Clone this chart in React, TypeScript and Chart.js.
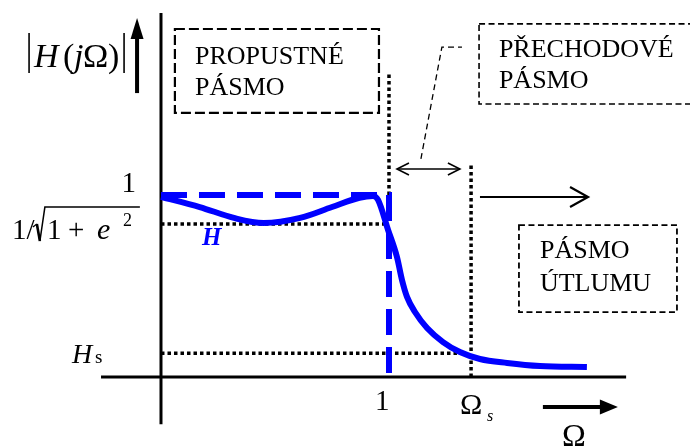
import React, { useEffect, useRef } from "react";
import { Chart, registerables } from "chart.js";
Chart.register(...registerables);

// ---- data (normalised frequency Ω, magnitude |H(jΩ)|) ----
const responseOmega = [0, 0.17, 0.32, 0.45, 0.61, 0.75, 0.87, 0.93, 0.952, 0.996, 1.035, 1.057, 1.079, 1.114, 1.167, 1.237, 1.311, 1.399, 1.518, 1.662, 1.868];
const responseMag = [0.99, 0.934, 0.874, 0.846, 0.874, 0.934, 0.985, 0.995, 0.973, 0.808, 0.659, 0.533, 0.44, 0.357, 0.269, 0.192, 0.137, 0.099, 0.077, 0.06, 0.055];
const idealOmega = [0, 1, 1];
const idealMag = [1, 1, 0];
const passbandEdge = 1;
const stopbandEdge = 1.36;
const passbandMin = 0.84;
const stopbandMax = 0.13;
const passbandTop = 1;
const axisXRange = [-0.263, 2.04];
const axisYRange = [-0.26, 2.0];
const viewX = [-0.7061, 2.3202];
const viewY = [-0.3901, 2.0714];

const pts = (xs: number[], ys: number[]) => xs.map((x, i) => ({ x, y: ys[i] }));

const SERIF = '"Liberation Serif", "Times New Roman", serif';

const annotationPlugin = {
  id: "filterAnnotations",
  afterDatasetsDraw(chart: any) {
    const ctx: CanvasRenderingContext2D = chart.ctx;
    const X = (v: number) => chart.scales.x.getPixelForValue(v);
    const Y = (v: number) => chart.scales.y.getPixelForValue(v);
    ctx.save();

    const text = (s: string, x: number, y: number, font: string, color = "#000", align: CanvasTextAlign = "left") => {
      ctx.font = font;
      ctx.fillStyle = color;
      ctx.textAlign = align;
      ctx.textBaseline = "alphabetic";
      ctx.fillText(s, x, y);
    };
    const line = (x1: number, y1: number, x2: number, y2: number, w: number, dash: number[] = []) => {
      ctx.beginPath();
      ctx.setLineDash(dash);
      ctx.lineWidth = w;
      ctx.strokeStyle = "#000";
      ctx.moveTo(x1, y1);
      ctx.lineTo(x2, y2);
      ctx.stroke();
      ctx.setLineDash([]);
    };
    const box = (x0: number, y0: number, x1: number, y1: number, w: number, dash: number[]) => {
      ctx.beginPath();
      ctx.setLineDash(dash);
      ctx.lineWidth = w;
      ctx.strokeStyle = "#000";
      ctx.rect(X(x0), Y(y0), X(x1) - X(x0), Y(y1) - Y(y0));
      ctx.stroke();
      ctx.setLineDash([]);
    };

    // dashed boxes with text
    box(0.061, 1.912, 0.956, 1.451, 2.2, [10, 4]);
    box(1.395, 1.94, 2.33, 1.5, 1.6, [6, 3.5]);
    box(1.57, 0.835, 2.263, 0.357, 1.8, [6, 3.5]);
    const f26 = `26px ${SERIF}`;
    text("PROPUSTNÉ", X(0.149), Y(1.72), f26);
    text("PÁSMO", X(0.149), Y(1.549), f26);
    text("PŘECHODOVÉ", X(1.482), Y(1.758), f26);
    text("PÁSMO", X(1.482), Y(1.588), f26);
    text("PÁSMO", X(1.662), Y(0.654), f26);
    text("ÚTLUMU", X(1.662), Y(0.473), f26);

    // leader line
    ctx.beginPath();
    ctx.setLineDash([6, 4]);
    ctx.lineWidth = 1.3;
    ctx.strokeStyle = "#000";
    ctx.moveTo(X(1.14), Y(1.198));
    ctx.lineTo(X(1.232), Y(1.813));
    ctx.lineTo(X(1.32), Y(1.813));
    ctx.stroke();
    ctx.setLineDash([]);

    // double arrow (transition band)
    {
      const y = Y(1.143), a = X(1.035), b = X(1.311);
      line(a, y, b, y, 1.6);
      ctx.beginPath();
      ctx.lineWidth = 1.6;
      ctx.moveTo(a + 12, y - 6); ctx.lineTo(a, y); ctx.lineTo(a + 12, y + 6);
      ctx.moveTo(b - 12, y - 6); ctx.lineTo(b, y); ctx.lineTo(b - 12, y + 6);
      ctx.stroke();
    }
    // stop band arrow
    {
      const y = Y(0.989), a = X(1.399), b = X(1.873);
      line(a, y, b, y, 2.2);
      ctx.beginPath();
      ctx.lineWidth = 2.2;
      ctx.moveTo(b - 18, y - 10); ctx.lineTo(b, y); ctx.lineTo(b - 18, y + 10);
      ctx.stroke();
    }
    // y arrow
    {
      const x = X(-0.105), a = Y(1.56), b = Y(1.973);
      line(x, a, x, b + 15, 4);
      ctx.beginPath();
      ctx.fillStyle = "#000";
      ctx.moveTo(x, b); ctx.lineTo(x - 6.5, b + 21); ctx.lineTo(x + 6.5, b + 21); ctx.closePath();
      ctx.fill();
    }
    // x arrow
    {
      const y = Y(-0.165), a = X(1.675), b = X(2.004);
      line(a, y, b - 15, y, 4);
      ctx.beginPath();
      ctx.fillStyle = "#000";
      ctx.moveTo(b, y); ctx.lineTo(b - 18, y - 7.5); ctx.lineTo(b - 18, y + 7.5); ctx.closePath();
      ctx.fill();
    }

    // |H(jΩ)|
    {
      const x0 = X(-0.583), b = Y(1.703);
      line(x0 + 1, b - 34, x0 + 1, b + 6, 1.6);
      text("H", x0 + 6, b, `italic 34px ${SERIF}`);
      text("(", x0 + 35, b, `34px ${SERIF}`);
      text("j", x0 + 46, b, `italic 34px ${SERIF}`);
      text("Ω", x0 + 55, b, `34px ${SERIF}`);
      text(")", x0 + 80, b, `34px ${SERIF}`);
      line(x0 + 96, b - 34, x0 + 96, b + 6, 1.6);
    }
    // tick-like labels
    text("1", X(-0.11), Y(1.016), `29px ${SERIF}`, "#000", "right");
    {
      const x0 = X(-0.654), b = Y(0.758);
      text("1/", x0, b, `29px ${SERIF}`);
      ctx.strokeStyle = "#000";
      ctx.beginPath();
      ctx.lineWidth = 1.3;
      ctx.moveTo(x0 + 21, b - 12); ctx.lineTo(x0 + 25, b - 15);
      ctx.stroke();
      ctx.beginPath();
      ctx.lineWidth = 2.6;
      ctx.moveTo(x0 + 25, b - 15); ctx.lineTo(x0 + 28, b + 2);
      ctx.stroke();
      ctx.beginPath();
      ctx.lineWidth = 1.5;
      ctx.moveTo(x0 + 28, b + 2); ctx.lineTo(x0 + 33, b - 32); ctx.lineTo(x0 + 128, b - 32);
      ctx.stroke();
      text("1", x0 + 35, b, `29px ${SERIF}`);
      text("+", x0 + 56, b, `29px ${SERIF}`);
      text("e", x0 + 85, b, `italic 30px ${SERIF}`);
      text("2", x0 + 111, b - 13, `18px ${SERIF}`);
    }
    text("H", X(0.18), Y(0.725), `italic bold 25px ${SERIF}`, "#0000ff");
    {
      const x0 = X(-0.39), b = Y(0.077);
      text("H", x0, b, `italic 28px ${SERIF}`);
      text("s", x0 + 23, b, `19px ${SERIF}`);
    }
    text("1", X(0.939), Y(-0.181), `29px ${SERIF}`);
    {
      const x0 = X(1.311), b = Y(-0.203);
      text("Ω", x0, b, `30px ${SERIF}`);
      text("s", x0 + 27, b + 7, `italic 16px ${SERIF}`);
    }
    text("Ω", X(1.759), Y(-0.379), `32px ${SERIF}`);

    ctx.restore();
  },
};

export default function App() {
  const ref = useRef<HTMLCanvasElement | null>(null);
  useEffect(() => {
    if (!ref.current) return;
    const dotted = (data: any[]) => ({
      data,
      borderColor: "#000",
      borderWidth: 3.5,
      borderDash: [3.5, 3],
      borderCapStyle: "butt",
      showLine: true,
      pointRadius: 0,
    });
    const chart = new Chart(ref.current, {
      type: "scatter",
      data: {
        datasets: [
          {
            label: "H",
            data: pts(responseOmega, responseMag),
            borderColor: "#0000ff",
            borderWidth: 6,
            showLine: true,
            pointRadius: 0,
            cubicInterpolationMode: "monotone",
            borderCapStyle: "butt",
          } as any,
          {
            label: "ideal",
            data: pts(idealOmega, idealMag),
            borderColor: "#0000ff",
            borderWidth: 6,
            borderDash: [26, 12],
            showLine: true,
            pointRadius: 0,
            tension: 0,
            borderJoinStyle: "miter",
          } as any,
          { label: "x-axis", data: pts(axisXRange, [0, 0]), borderColor: "#000", borderWidth: 3, showLine: true, pointRadius: 0 } as any,
          { label: "y-axis", data: pts([0, 0], axisYRange), borderColor: "#000", borderWidth: 3, showLine: true, pointRadius: 0 } as any,
          { label: "passband min", ...dotted(pts([0, 0.99], [passbandMin, passbandMin])) } as any,
          { label: "stopband max", ...dotted(pts([0, 1.3], [stopbandMax, stopbandMax])) } as any,
          { label: "passband edge", ...dotted(pts([passbandEdge, passbandEdge], [passbandTop, 1.67])) } as any,
          { label: "stopband edge", ...dotted(pts([stopbandEdge, stopbandEdge], [0, 1.165])) } as any,
        ],
      },
      options: {
        responsive: false,
        animation: false,
        layout: { padding: 0 },
        plugins: { legend: { display: false }, tooltip: { enabled: false } },
        scales: {
          x: { type: "linear", min: viewX[0], max: viewX[1], display: false },
          y: { type: "linear", min: viewY[0], max: viewY[1], display: false },
        },
      },
      plugins: [annotationPlugin],
    } as any);
    return () => chart.destroy();
  }, []);
  return (
    <div style={{ position: "fixed", left: 0, top: 0, width: 690, height: 448, background: "#fff" }}>
      <canvas ref={ref} width={690} height={448} style={{ display: "block" }} />
    </div>
  );
}
